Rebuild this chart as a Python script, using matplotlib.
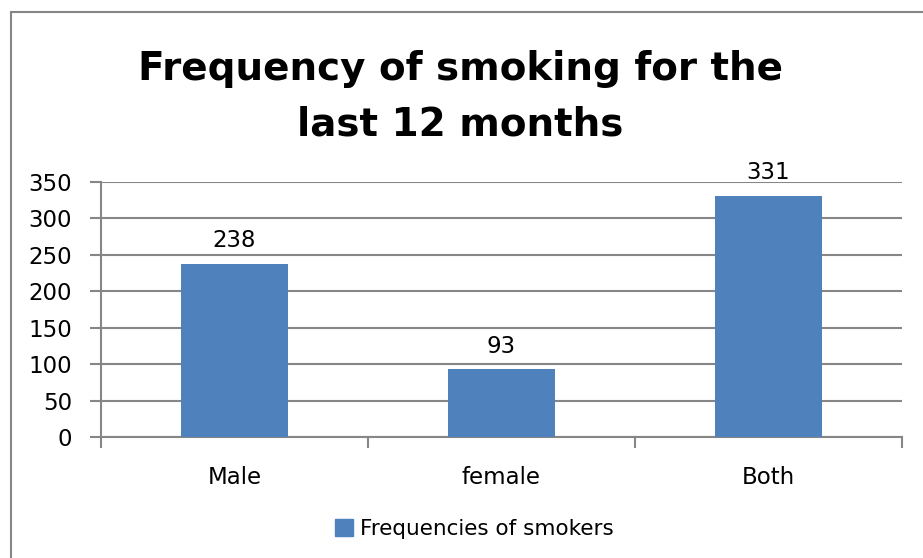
import matplotlib.pyplot as plt
from matplotlib.patches import Rectangle, Patch
import numpy as np

groups = ['Male', 'female', 'Both']
smokers = [238, 93, 331]
y_ticks = [0, 50, 100, 150, 200, 250, 300, 350]

bar_color = '#4F81BD'
axis_gray = '#868686'

plt.rcParams['font.family'] = ['DejaVu Sans']

fig = plt.figure(figsize=(9.23, 5.58), dpi=100)
W, H = 923, 558

# outer chart frame (only the top and left edges fall inside the image)
fig.patches.append(Rectangle((11 / W, -0.1), 1.2, (H - 12) / H + 0.1,
                             transform=fig.transFigure, fill=False,
                             edgecolor=axis_gray, linewidth=1.5))

ax = fig.add_axes([101 / W, (H - 437) / H, 801 / W, 255 / H])
x = np.arange(len(groups))
bars = ax.bar(x, smokers, width=0.4, color=bar_color, zorder=3,
              label='Frequencies of smokers')

ax.set_xlim(-0.5, len(groups) - 0.5)
ax.set_ylim(0, 350)
ax.set_yticks(y_ticks)
ax.set_yticklabels([str(v) for v in y_ticks], fontsize=16.5)
ax.yaxis.grid(True, color=axis_gray, linewidth=1.5, zorder=0)

# category labels centred, tick marks on the category boundaries
ax.set_xticks(x)
ax.set_xticklabels(groups, fontsize=16.5)
ax.tick_params(axis='x', which='major', length=0, pad=21)
ax.set_xticks(np.arange(len(groups) + 1) - 0.5, minor=True)
ax.tick_params(axis='x', which='minor', length=8, width=1.5, color=axis_gray, direction='out')
ax.tick_params(axis='y', length=8, width=1.5, color=axis_gray, pad=13)

for side in ['top', 'right']:
    ax.spines[side].set_visible(False)
for side in ['left', 'bottom']:
    ax.spines[side].set_color(axis_gray)
    ax.spines[side].set_linewidth(1.5)

for b, v in zip(bars, smokers):
    ax.annotate(str(v), (b.get_x() + b.get_width() / 2, v), xytext=(0, 12),
                textcoords='offset points', ha='center', va='baseline', fontsize=16.5)

fig.text(460 / W, 1 - 80 / H, 'Frequency of smoking for the', ha='center', va='baseline',
         fontsize=28, fontweight='bold')
fig.text(460 / W, 1 - 136 / H, 'last 12 months', ha='center', va='baseline',
         fontsize=28, fontweight='bold')

fig.legend(handles=[Patch(color=bar_color, label='Frequencies of smokers')],
           loc='center', bbox_to_anchor=(474 / W, 1 - 529 / H), frameon=False,
           fontsize=15.5, handlelength=0.85, handleheight=0.85, handletextpad=0.3)

fig.savefig('out.png', dpi=100)
